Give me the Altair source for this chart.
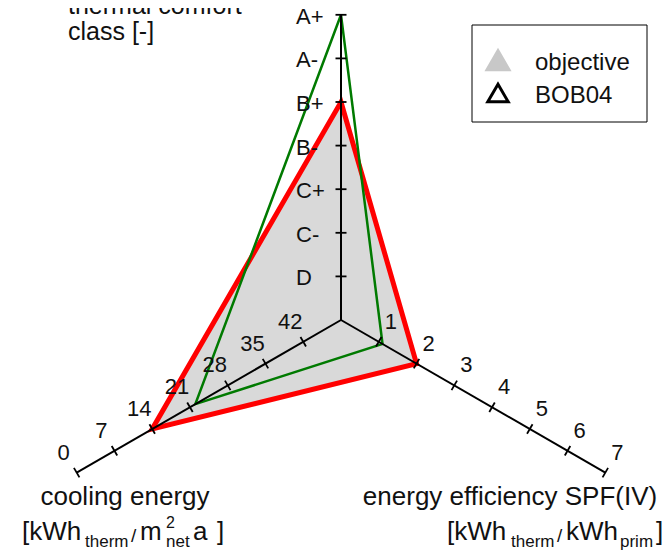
import altair as alt
import pandas as pd
import numpy as np

# ---------------- data ----------------
comfort_classes = ["D", "C-", "C+", "B-", "B+", "A-", "A+"]      # radial positions 1..7
efficiency_ticks = [1, 2, 3, 4, 5, 6, 7]
cooling_ticks = [0, 7, 14, 21, 28, 35, 42]                        # 49 at centre
series_names = ["objective", "BOB04"]
comfort_values = ["B+", "A+"]
efficiency_values = [2.0, 1.1]
cooling_values = [14, 22]

# ---------------- layout ----------------
W, H = 654, 544
OX, OY = 8, 8
CX, CY = 341, 320
UNIT = 43.6
ANG_COMFORT, ANG_EFF, ANG_COOL = 90, -30, 210
FONT = "Liberation Sans"


def comfort_r(c):
    return comfort_classes.index(c) + 1


def cool_r(v):
    return (49 - v) / 7


def pos(r, ang):
    a = np.deg2rad(ang)
    return CX + r * UNIT * np.cos(a), CY - r * UNIT * np.sin(a)


xs = alt.Scale(domain=[OX, OX + W], nice=False, zero=False)
ys = alt.Scale(domain=[OY + H, OY], nice=False, zero=False)
X = lambda f="x": alt.X(f"{f}:Q", scale=xs, axis=None)
Y = lambda f="y": alt.Y(f"{f}:Q", scale=ys, axis=None)

# polygons
poly_rows = []
for s, c, e, k in zip(series_names, comfort_values, efficiency_values, cooling_values):
    for o, (r, a) in enumerate([(comfort_r(c), ANG_COMFORT), (e, ANG_EFF), (cool_r(k), ANG_COOL)]):
        px, py = pos(r, a)
        poly_rows.append({"series": s, "o": o, "x": px, "y": py})
poly = pd.DataFrame(poly_rows)

# axis lines
axis_rows = []
for a in [ANG_COMFORT, ANG_EFF, ANG_COOL]:
    x2, y2 = pos(7, a)
    axis_rows.append({"x": CX, "y": CY, "x2": x2, "y2": y2})
axes_df = pd.DataFrame(axis_rows)

# ticks and labels
HALF = 5.5
tick_rows, lab_rows = [], []
for i, c in enumerate(comfort_classes):
    px, py = pos(i + 1, ANG_COMFORT)
    tick_rows.append({"x": px - HALF, "y": py, "x2": px + HALF, "y2": py})
    lab_rows.append({"x": px - 45, "y": py + 2, "t": c, "grp": "comfort"})
for v in efficiency_ticks:
    px, py = pos(v, ANG_EFF)
    a = np.deg2rad(ANG_EFF + 90)
    dx, dy = HALF * np.cos(a), -HALF * np.sin(a)
    tick_rows.append({"x": px - dx, "y": py - dy, "x2": px + dx, "y2": py + dy})
    lab_rows.append({"x": px + 12, "y": py - 20, "t": str(v), "grp": "radial"})
for v in cooling_ticks:
    px, py = pos(cool_r(v), ANG_COOL)
    a = np.deg2rad(ANG_COOL + 90)
    dx, dy = HALF * np.cos(a), -HALF * np.sin(a)
    tick_rows.append({"x": px - dx, "y": py - dy, "x2": px + dx, "y2": py + dy})
    lab_rows.append({"x": px - 13, "y": py - 20, "t": str(v), "grp": "radial"})
ticks_df = pd.DataFrame(tick_rows)
labs_df = pd.DataFrame(lab_rows)

base = alt.Chart(poly)

fill = base.transform_filter(alt.datum.series == "objective").mark_line(
    interpolate="linear-closed", fill="#d9d9d9", stroke="#ff0000", strokeWidth=5, strokeJoin="miter"
).encode(x=X(), y=Y(), order="o:Q")

green = base.transform_filter(alt.datum.series == "BOB04").mark_line(
    interpolate="linear-closed", stroke="#007a00", strokeWidth=2.5, strokeJoin="miter"
).encode(x=X(), y=Y(), order="o:Q")

axes_layer = alt.Chart(axes_df).mark_rule(color="black", strokeWidth=2).encode(
    x=X(), y=Y(), x2="x2:Q", y2="y2:Q")
ticks_layer = alt.Chart(ticks_df).mark_rule(color="black", strokeWidth=1.8).encode(
    x=X(), y=Y(), x2="x2:Q", y2="y2:Q")

comfort_labels = alt.Chart(labs_df).transform_filter(alt.datum.grp == "comfort").mark_text(
    font=FONT, fontSize=22, align="left", baseline="middle", color="#111"
).encode(x=X(), y=Y(), text="t:N")
radial_labels = alt.Chart(labs_df).transform_filter(alt.datum.grp == "radial").mark_text(
    font=FONT, fontSize=22, align="center", baseline="middle", color="#111"
).encode(x=X(), y=Y(), text="t:N")


def txt(t, x, y, size=26, align="left"):
    return alt.Chart(pd.DataFrame({"t": [t]})).mark_text(
        font=FONT, fontSize=size, align=align, baseline="alphabetic", color="#111"
    ).encode(x=alt.value(x - OX), y=alt.value(y - OY), text="t:N")


titles = [
    txt("thermal comfort", 68, 14, 25),
    txt("class [-]", 68, 40, 25),
    txt("cooling energy", 125, 505, align="center"),
    txt("[kWh", 22, 540),
    txt("therm", 85, 547, 17),
    txt("/", 131, 542, 19),
    txt("m", 140, 540),
    txt("2", 166, 528, 16),
    txt("net", 166, 547, 17),
    txt("a", 193, 540),
    txt("]", 217, 540),
    txt("energy efficiency SPF(IV)", 510, 505, align="center"),
    txt("[kWh", 447, 540),
    txt("therm", 511, 547, 17),
    txt("/", 557, 542, 19),
    txt("kWh", 566, 540),
    txt("prim", 620, 547, 17),
    txt("]", 656, 540),
]

# legend
leg_box = alt.Chart(pd.DataFrame({"x": [472], "x2": [647], "y": [25], "y2": [122]})).mark_rect(
    fill="white", stroke="black", strokeWidth=1).encode(x=X(), y=Y(), x2="x2:Q", y2="y2:Q")
leg_df = pd.DataFrame({"series": series_names, "x": [498, 498], "y": [60, 93],
                       "tx": [535, 535], "ty": [70, 103]})
leg_obj = alt.Chart(leg_df).transform_filter(alt.datum.series == "objective").mark_point(
    shape="triangle-up", size=560, filled=True, fill="#c8c8c8", stroke="#c8c8c8", strokeWidth=2, opacity=1
).encode(x=X(), y=Y())
leg_bob = alt.Chart(leg_df).transform_filter(alt.datum.series == "BOB04").mark_point(
    shape="triangle-up", size=420, filled=False, fill="white", stroke="black", strokeWidth=3, opacity=1
).encode(x=X(), y=Y())
leg_txt = alt.Chart(leg_df).mark_text(font=FONT, fontSize=24, align="left", baseline="alphabetic",
                                      color="#111").encode(x=X("tx"), y=Y("ty"), text="series:N")

chart = alt.layer(
    fill, green, axes_layer, ticks_layer, comfort_labels, radial_labels,
    leg_box, leg_obj, leg_bob, leg_txt, *titles
).properties(
    width=W, height=H, padding=0, autosize=alt.AutoSizeParams(type="none")
).configure_view(stroke=None)

chart.save("out.html", embed_options={"renderer": "svg", "actions": False})
